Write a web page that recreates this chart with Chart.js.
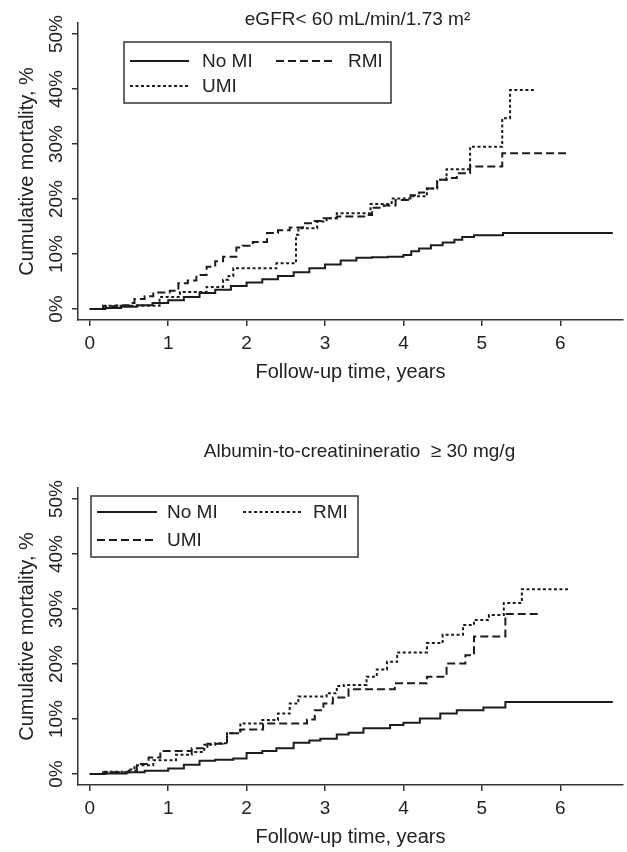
<!DOCTYPE html>
<html>
<head>
<meta charset="utf-8">
<script src="https://cdn.jsdelivr.net/npm/chart.js@4/dist/chart.umd.min.js"></script>
<style>
  body { margin: 0; background: #fff; overflow: hidden; }
  canvas { display: block; }
</style>
</head>
<body>
<canvas id="egfrChart" width="627" height="420"></canvas>
<canvas id="acrChart" width="627" height="432"></canvas>
<script>
// axis ticks
var xTicks = [0, 1, 2, 3, 4, 5, 6];
var yTicks = [0, 10, 20, 30, 40, 50];

// eGFR < 60 panel (years, cumulative mortality %)
var egfrNoMiT = [0, 0.2, 0.4, 0.6, 0.8, 1.0, 1.2, 1.4, 1.6, 1.8, 2.0, 2.2, 2.4, 2.6, 2.8, 3.0, 3.2, 3.4, 3.6, 3.8, 4.0, 4.1, 4.2, 4.35, 4.5, 4.65, 4.75, 4.9, 5.27, 6.67];
var egfrNoMiV = [0, 0.2, 0.4, 0.7, 1.1, 1.6, 2.2, 2.9, 3.5, 4.2, 4.8, 5.4, 6.0, 6.7, 7.4, 8.1, 8.8, 9.3, 9.4, 9.5, 9.8, 10.5, 11.0, 11.6, 12.1, 12.6, 13.1, 13.4, 13.8, 13.8];
var egfrRmiT = [0, 0.17, 0.35, 0.51, 0.57, 0.7, 0.81, 1.02, 1.13, 1.25, 1.36, 1.49, 1.6, 1.7, 1.87, 1.95, 2.08, 2.26, 2.4, 2.55, 2.72, 2.85, 2.98, 3.15, 3.5, 3.6, 3.75, 3.9, 4.09, 4.2, 4.3, 4.43, 4.55, 4.68, 4.85, 5.26, 6.09];
var egfrRmiV = [0, 0.5, 0.7, 1.1, 1.8, 2.3, 3.0, 3.3, 4.7, 5.2, 6.2, 7.7, 8.7, 9.5, 11.2, 11.5, 12.2, 13.8, 14.3, 14.8, 15.6, 16.0, 16.5, 16.8, 17.1, 18.4, 18.8, 19.8, 20.7, 21.2, 21.9, 23.5, 23.8, 24.7, 25.9, 28.3, 28.3];
var egfrUmiT = [0, 0.17, 0.89, 1.15, 1.49, 1.7, 1.77, 1.83, 2.38, 2.63, 2.66, 2.9, 3.02, 3.15, 3.58, 3.85, 4.09, 4.3, 4.43, 4.55, 4.85, 5.26, 5.36, 5.68];
var egfrUmiV = [0, 0.6, 2.2, 3.1, 4.0, 5.3, 6.0, 7.4, 8.3, 13.5, 14.7, 15.9, 16.5, 17.4, 19.1, 20.1, 20.5, 21.9, 23.5, 25.4, 29.5, 34.7, 39.8, 39.8];

// albumin-to-creatinine >= 30 panel
var acrNoMiT = [0, 0.2, 0.47, 0.7, 1.0, 1.2, 1.4, 1.6, 1.83, 2.0, 2.2, 2.38, 2.6, 2.8, 2.94, 3.15, 3.3, 3.49, 3.83, 4.0, 4.21, 4.47, 4.68, 5.02, 5.3, 6.67];
var acrNoMiV = [0, 0.1, 0.3, 0.6, 1.0, 1.7, 2.4, 2.6, 2.8, 3.8, 4.2, 4.7, 5.7, 6.1, 6.4, 7.2, 7.5, 8.3, 8.9, 9.3, 10.1, 11.0, 11.6, 12.1, 13.1, 13.1];
var acrRmiT = [0, 0.17, 0.5, 0.57, 0.81, 1.0, 1.1, 1.3, 1.46, 1.6, 1.75, 1.92, 2.2, 2.4, 2.55, 2.66, 3.02, 3.15, 3.24, 3.53, 3.66, 3.79, 3.92, 4.3, 4.5, 4.76, 4.9, 5.09, 5.28, 5.51, 6.13];
var acrRmiV = [0, 0.4, 0.8, 1.6, 2.5, 2.5, 3.5, 4.0, 5.3, 5.6, 7.4, 9.2, 9.8, 11.0, 12.8, 14.1, 14.7, 16.0, 16.2, 17.7, 19.0, 20.4, 22.1, 23.8, 25.3, 27.1, 28.0, 28.9, 31.1, 33.6, 33.6];
var acrUmiT = [0, 0.17, 0.5, 0.6, 0.75, 0.9, 1.3, 1.5, 1.75, 1.92, 2.21, 2.77, 2.87, 2.98, 3.1, 3.3, 3.89, 4.3, 4.55, 4.79, 4.9, 5.3, 5.72];
var acrUmiV = [0, 0.3, 0.6, 1.8, 3.0, 4.2, 4.7, 5.5, 7.4, 8.1, 9.2, 9.9, 11.6, 12.8, 13.9, 15.4, 16.5, 17.7, 20.1, 21.6, 25.0, 29.1, 29.1];

var FONT = "'Liberation Sans', Arial, Helvetica, sans-serif";
var INK = '#222';
Chart.defaults.font.family = FONT;
Chart.defaults.font.size = 19;
Chart.defaults.color = INK;

function pts(t, v) {
  return t.map(function (x, i) { return { x: x, y: v[i] }; });
}

function km(label, t, v, dash) {
  return {
    label: label,
    data: pts(t, v),
    stepped: true,
    borderColor: '#1c1c1c',
    borderWidth: 2,
    borderDash: dash,
    pointRadius: 0,
    fill: false
  };
}

// panel title + boxed two-column legend, like the Stata original
function makeDecor(o) {
  return {
    id: 'decor',
    afterDraw: function (chart) {
      var ctx = chart.ctx, area = chart.chartArea;
      ctx.save();
      ctx.font = '19px ' + FONT;
      ctx.fillStyle = INK;
      ctx.textBaseline = 'middle';
      ctx.textAlign = 'center';
      ctx.fillText(o.title, (area.left + area.right) / 2 + o.titleDx, o.titleY);

      var bx = area.left + o.boxX, by = area.top + o.boxY;
      ctx.lineWidth = 1.5;
      ctx.strokeStyle = '#333';
      ctx.strokeRect(bx, by, o.boxW, o.boxH);

      chart.data.datasets.forEach(function (ds, i) {
        var x0 = bx + (i % 2 ? o.col2 : o.col1);
        var y0 = by + (i < 2 ? o.row1 : o.row2);
        ctx.setLineDash(ds.borderDash || []);
        ctx.lineWidth = ds.borderWidth;
        ctx.strokeStyle = ds.borderColor;
        ctx.beginPath();
        ctx.moveTo(x0, y0);
        ctx.lineTo(x0 + o.sample, y0);
        ctx.stroke();
        ctx.setLineDash([]);
        ctx.textAlign = 'left';
        ctx.fillText(ds.label, x0 + o.sample + o.gap, y0 + 1);
      });
      ctx.restore();
    }
  };
}

function makeOptions(pad) {
  return {
    responsive: false,
    animation: false,
    layout: { padding: pad },
    plugins: { legend: { display: false }, tooltip: { enabled: false } },
    scales: {
      x: {
        type: 'linear',
        min: -0.15,
        max: 6.8,
        afterBuildTicks: function (s) { s.ticks = xTicks.map(function (v) { return { value: v }; }); },
        afterFit: function (s) { s.height = 64; },
        ticks: { padding: 6, color: INK },
        grid: { drawOnChartArea: false, drawTicks: true, tickLength: 6, color: '#333', lineWidth: 1.5 },
        border: { display: true, color: '#333', width: 1.5 },
        title: { display: true, text: 'Follow-up time, years', color: INK, font: { size: 20 }, padding: { top: 0, bottom: 0 } }
      },
      y: {
        min: -2,
        max: 52,
        afterBuildTicks: function (s) { s.ticks = yTicks.map(function (v) { return { value: v }; }); },
        afterFit: function (s) { s.width = 78; },
        ticks: {
          minRotation: 90,
          maxRotation: 90,
          crossAlign: 'center',
          padding: -4,
          color: INK,
          callback: function (v) { return v + '%'; }
        },
        grid: { drawOnChartArea: false, drawTicks: true, tickLength: 6, color: '#333', lineWidth: 1.5 },
        border: { display: true, color: '#333', width: 1.5 },
        title: { display: true, text: 'Cumulative mortality, %', color: INK, font: { size: 20 }, padding: { top: 15, bottom: 0 } }
      }
    }
  };
}

new Chart(document.getElementById('egfrChart').getContext('2d'), {
  type: 'line',
  data: {
    datasets: [
      km('No MI', egfrNoMiT, egfrNoMiV, []),
      km('RMI', egfrRmiT, egfrRmiV, [8, 4]),
      km('UMI', egfrUmiT, egfrUmiV, [3, 2.5])
    ]
  },
  options: makeOptions({ top: 23, left: 0, right: 4, bottom: 36 }),
  plugins: [makeDecor({
    title: 'eGFR< 60 mL/min/1.73 m\u00B2', titleDx: 7, titleY: 20,
    boxX: 46, boxY: 19, boxW: 267, boxH: 61,
    col1: 6, col2: 152, row1: 19, row2: 44, sample: 59, gap: 13
  })]
});

new Chart(document.getElementById('acrChart').getContext('2d'), {
  type: 'line',
  data: {
    datasets: [
      km('No MI', acrNoMiT, acrNoMiV, []),
      km('RMI', acrRmiT, acrRmiV, [3, 2.5]),
      km('UMI', acrUmiT, acrUmiV, [8, 4])
    ]
  },
  options: makeOptions({ top: 68, left: 0, right: 4, bottom: 3 }),
  plugins: [makeDecor({
    title: 'Albumin-to-creatinineratio  \u2265 30 mg/g', titleDx: 9, titleY: 32,
    boxX: 13, boxY: 8, boxW: 267, boxH: 61,
    col1: 6, col2: 152, row1: 16, row2: 44, sample: 60, gap: 10
  })]
});
</script>
</body>
</html>
